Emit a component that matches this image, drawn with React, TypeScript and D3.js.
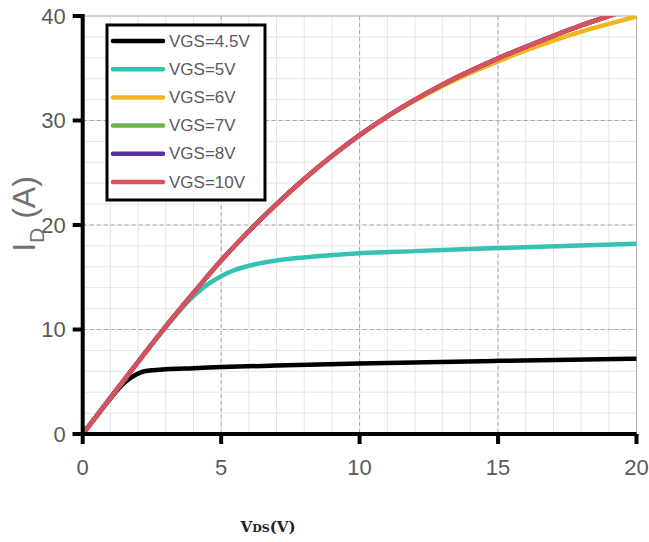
import React from "react";
import * as d3 from "d3";

const xTicks = [0, 5, 10, 15, 20];
const yTicks = [0, 10, 20, 30, 40];
const seriesNames = ["VGS=4.5V", "VGS=5V", "VGS=6V", "VGS=7V", "VGS=8V", "VGS=10V"];
const seriesColors = ["#000000", "#36c2b2", "#f2b51c", "#6cb34a", "#5a2f9e", "#d9505e"];

const vds45 = [0, 0.5, 1, 1.5, 1.8, 2.1, 2.5, 3, 4, 5, 7, 10, 15, 20];
const id45 = [0, 1.7, 3.4, 4.9, 5.5, 5.9, 6.1, 6.2, 6.3, 6.4, 6.55, 6.75, 7.0, 7.2];

const vds5 = [0, 1, 2, 3, 3.5, 4, 4.5, 5, 5.5, 6, 7, 8, 10, 12, 15, 20];
const id5 = [0, 3.5, 6.9, 10.2, 11.8, 13.2, 14.3, 15.1, 15.7, 16.1, 16.6, 16.9, 17.3, 17.5, 17.8, 18.2];

const vdsHigh = [0, 1, 2, 3, 4, 5, 6, 7, 8, 9, 10, 11, 12, 13, 14, 15, 16, 17, 18, 19, 20];
const id6 = [0, 3.45, 6.9, 10.3, 13.5, 16.6, 19.4, 22.0, 24.4, 26.6, 28.6, 30.35, 31.9, 33.3, 34.55, 35.65, 36.7, 37.65, 38.5, 39.25, 39.95];
const id7 = [0, 3.45, 6.9, 10.3, 13.5, 16.6, 19.4, 22.0, 24.4, 26.6, 28.6, 30.4, 32.0, 33.45, 34.75, 35.95, 37.05, 38.1, 39.1, 40.0, 40.85];
const id8 = [0, 3.45, 6.9, 10.3, 13.5, 16.6, 19.4, 22.0, 24.4, 26.6, 28.6, 30.4, 32.0, 33.45, 34.75, 35.95, 37.05, 38.1, 39.1, 40.0, 40.85];
const id10 = [0, 3.45, 6.9, 10.3, 13.5, 16.6, 19.4, 22.0, 24.4, 26.6, 28.6, 30.4, 32.0, 33.45, 34.75, 35.95, 37.05, 38.1, 39.1, 40.0, 40.85];

const seriesX = [vds45, vds5, vdsHigh, vdsHigh, vdsHigh, vdsHigh];
const seriesY = [id45, id5, id6, id7, id8, id10];

export default function App() {
  const W = 649, H = 542;
  const left = 82.7, right = 636.5, top = 16, bottom = 434;
  const x = d3.scaleLinear().domain([0, 20]).range([left, right]);
  const y = d3.scaleLinear().domain([0, 40]).range([bottom, top]);
  const line = d3
    .line<[number, number]>()
    .x((d) => x(d[0]))
    .y((d) => y(d[1]))
    .curve(d3.curveMonotoneX);

  const minorX = d3.range(0, 21, 1);
  const minorY = d3.range(0, 41, 2);
  const labelFont = "'Liberation Sans', Arial, sans-serif";

  return (
    <svg
      width={W}
      height={H}
      style={{ position: "absolute", left: 0, top: 0, background: "#fff" }}
    >
      <defs>
        <clipPath id="plot">
          <rect x={left} y={top} width={right - left} height={bottom - top} />
        </clipPath>
      </defs>
      {minorX.map((v) => (
        <line key={"mx" + v} x1={x(v)} x2={x(v)} y1={top} y2={bottom} stroke="#e6e6e6" strokeWidth={1} />
      ))}
      {minorY.map((v) => (
        <line key={"my" + v} x1={left} x2={right} y1={y(v)} y2={y(v)} stroke="#e6e6e6" strokeWidth={1} />
      ))}
      {xTicks.slice(1, -1).map((v) => (
        <line key={"gx" + v} x1={x(v)} x2={x(v)} y1={top} y2={bottom} stroke="#a8a8a8" strokeWidth={1} strokeDasharray="4,3" />
      ))}
      {yTicks.slice(1, -1).map((v) => (
        <line key={"gy" + v} x1={left} x2={right} y1={y(v)} y2={y(v)} stroke="#a8a8a8" strokeWidth={1} strokeDasharray="4,3" />
      ))}
      <line x1={left} x2={right} y1={top} y2={top} stroke="#b0b0b0" strokeWidth={1} />
      <line x1={right} x2={right} y1={top} y2={bottom} stroke="#b0b0b0" strokeWidth={1} />

      <g clipPath="url(#plot)">
        {seriesNames.map((name, i) => {
          const pts = seriesX[i].map((v, j) => [v, seriesY[i][j]] as [number, number]);
          return (
            <path
              key={name}
              d={line(pts) || ""}
              fill="none"
              stroke={seriesColors[i]}
              strokeWidth={4.5}
              strokeLinecap="round"
            />
          );
        })}
      </g>

      <line x1={left} x2={left} y1={top - 2} y2={bottom + 2} stroke="#000" strokeWidth={4} />
      <line x1={left - 10} x2={right} y1={bottom} y2={bottom} stroke="#000" strokeWidth={4} />
      {yTicks.map((v) => (
        <line key={"yt" + v} x1={left - 10} x2={left} y1={y(v)} y2={y(v)} stroke="#000" strokeWidth={4} />
      ))}
      {xTicks.map((v) => (
        <line key={"xt" + v} x1={x(v)} x2={x(v)} y1={bottom} y2={bottom + 10} stroke="#000" strokeWidth={4} />
      ))}
      {yTicks.map((v) => (
        <text
          key={"yl" + v}
          x={left - 17}
          y={y(v)}
          textAnchor="end"
          dominantBaseline="central"
          fontFamily={labelFont}
          fontSize={22}
          fill="#5a5a5a"
        >
          {v}
        </text>
      ))}
      {xTicks.map((v) => (
        <text
          key={"xl" + v}
          x={x(v)}
          y={475}
          textAnchor="middle"
          fontFamily={labelFont}
          fontSize={22}
          fill="#5a5a5a"
        >
          {v}
        </text>
      ))}

      <text
        transform="translate(35,214) rotate(-90)"
        textAnchor="middle"
        fontFamily={labelFont}
        fontSize={32}
        fill="#727272"
      >
        I<tspan fontSize={21} dy={9}>D</tspan>
        <tspan dy={-9}> (A)</tspan>
      </text>

      <text
        x={268}
        y={532}
        textAnchor="middle"
        fontFamily="'DejaVu Serif', 'Liberation Serif', serif"
        fontWeight="bold"
        fontSize={15}
        fill="#222"
      >
        V<tspan fontSize={11}>DS</tspan>(V)
      </text>

      <rect x={107} y={25} width={158} height={175} fill="#fff" stroke="#000" strokeWidth={3} />
      {seriesNames.map((name, i) => {
        const cy = 41 + i * 28.2;
        return (
          <g key={"lg" + name}>
            <line x1={113} x2={163} y1={cy} y2={cy} stroke={seriesColors[i]} strokeWidth={4.5} strokeLinecap="round" />
            <text
              x={169}
              y={cy}
              dominantBaseline="central"
              fontFamily={labelFont}
              fontSize={17}
              fill="#5a5a5a"
            >
              {name}
            </text>
          </g>
        );
      })}
    </svg>
  );
}
